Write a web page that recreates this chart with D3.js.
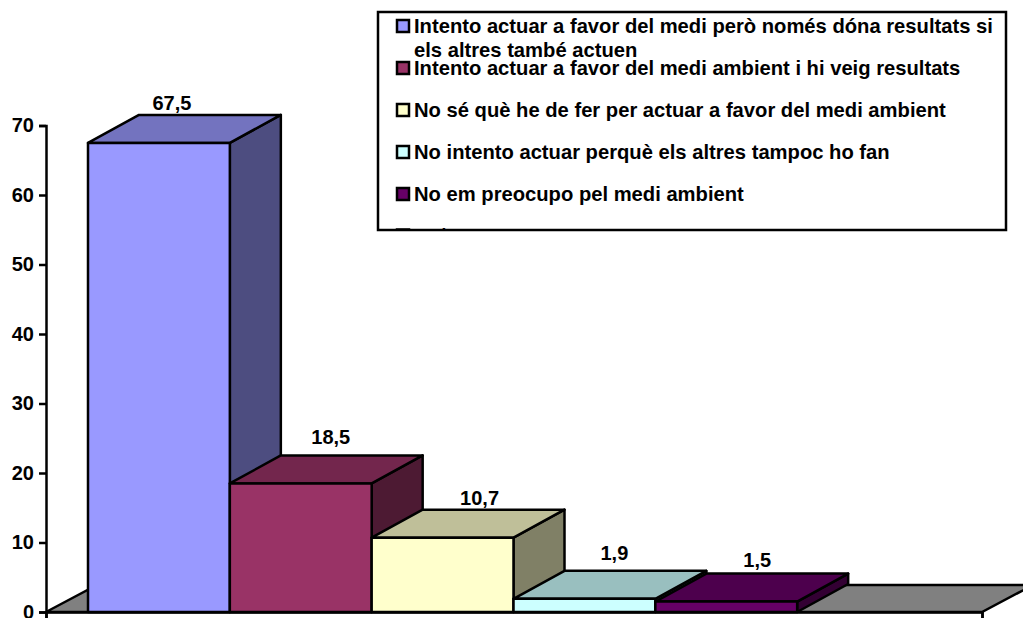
<!DOCTYPE html>
<html>
<head>
<meta charset="utf-8">
<script src="https://cdn.jsdelivr.net/npm/d3@7"></script>
<style>
  html, body { margin: 0; padding: 0; background: #fff; overflow: hidden; }
  text { font-family: "Liberation Sans", Arial, sans-serif; font-weight: bold; fill: #000; }
</style>
</head>
<body>
<div id="chart"></div>
<script>
// one category, six series (the last one has no bar and its legend row is cut off by the box)
var seriesNames = [
  ["Intento actuar a favor del medi però només dóna resultats si", "els altres també actuen"],
  ["Intento actuar a favor del medi ambient i hi veig resultats"],
  ["No sé què he de fer per actuar a favor del medi ambient"],
  ["No intento actuar perquè els altres tampoc ho fan"],
  ["No em preocupo pel medi ambient"],
  ["Ns/Nc"]
];
var seriesValues = [67.5, 18.5, 10.7, 1.9, 1.5, 0];
var valueLabels = ["67,5", "18,5", "10,7", "1,9", "1,5", ""];
var seriesColors = ["#9999ff", "#993366", "#ffffcc", "#ccffff", "#660066", "#ff8080"];
var yTicks = [0, 10, 20, 30, 40, 50, 60, 70];

var width = 1023, height = 618;
var depthX = 51, depthY = -28;   // oblique offset of the 3d look
var floorLeft = 46, floorRight = 982;
var strokeW = 2.5;

// the value labels don't sit at a fixed place over the bars, nudge each by hand
var labelDx = [13, 30, 37, 30, 31, 0];
var labelDy = [-5, -11, -5, -11, -7, 0];

var svg = d3.select("#chart").append("svg")
  .attr("width", width)
  .attr("height", height)
  .style("display", "block");

var y = d3.scaleLinear().domain([0, 70]).range([612, 125.5]);
var x = d3.scaleBand()
  .domain(d3.range(seriesValues.length))
  .range([88, 939]);

var line = d3.line();
function poly(pts) { return line(pts) + "Z"; }

function shade(c, k) {
  var r = d3.rgb(c);
  return d3.rgb(r.r * k, r.g * k, r.b * k).formatHex();
}

// floor
svg.append("path")
  .attr("d", poly([
    [floorLeft, y(0)], [floorRight, y(0)],
    [floorRight + depthX, y(0) + depthY + 1], [floorLeft + depthX, y(0) + depthY + 1]
  ]))
  .attr("fill", "#808080")
  .attr("stroke", "#000")
  .attr("stroke-width", strokeW);

// bars, left to right so each one covers the side of the previous
var barData = seriesValues
  .map(function(v, i) { return {v: v, i: i}; })
  .filter(function(d) { return d.v > 0; });

var bars = svg.selectAll(".bar")
  .data(barData)
  .enter().append("g")
  .attr("class", "bar")
  .attr("stroke", "#000")
  .attr("stroke-width", strokeW)
  .attr("stroke-linejoin", "round");

bars.append("path") // side
  .attr("fill", function(d) { return shade(seriesColors[d.i], 0.5); })
  .attr("d", function(d) {
    var r = x(d.i) + x.bandwidth();
    return poly([[r, y(0)], [r, y(d.v)], [r + depthX, y(d.v) + depthY], [r + depthX, y(0) + depthY]]);
  });

bars.append("path") // top
  .attr("fill", function(d) { return shade(seriesColors[d.i], 0.75); })
  .attr("d", function(d) {
    var l = x(d.i), r = l + x.bandwidth();
    return poly([[l, y(d.v)], [r, y(d.v)], [r + depthX, y(d.v) + depthY], [l + depthX, y(d.v) + depthY]]);
  });

bars.append("rect") // front
  .attr("fill", function(d) { return seriesColors[d.i]; })
  .attr("x", function(d) { return x(d.i); })
  .attr("y", function(d) { return y(d.v); })
  .attr("width", x.bandwidth())
  .attr("height", function(d) { return y(0) - y(d.v); });

svg.selectAll(".value")
  .data(barData)
  .enter().append("text")
  .attr("class", "value")
  .attr("x", function(d) { return x(d.i) + x.bandwidth() / 2 + labelDx[d.i]; })
  .attr("y", function(d) { return y(d.v) + depthY + labelDy[d.i]; })
  .attr("text-anchor", "middle")
  .style("font-size", "20px")
  .text(function(d) { return valueLabels[d.i]; });

// y axis
var yAxis = svg.append("g")
  .attr("transform", "translate(" + floorLeft + ",0)")
  .call(d3.axisLeft(y).tickValues(yTicks).tickSize(7).tickPadding(5).tickFormat(d3.format("d")));
yAxis.attr("font-family", null).attr("font-size", null);
yAxis.select(".domain").attr("stroke", "#000").attr("stroke-width", strokeW);
yAxis.selectAll(".tick line").attr("stroke", "#000").attr("stroke-width", strokeW);
yAxis.selectAll(".tick text").style("font-size", "20px");

// x axis line and its end ticks
var xAxis = svg.append("g")
  .attr("transform", "translate(0," + y(0) + ")")
  .call(d3.axisBottom(d3.scaleLinear().domain([floorLeft, floorRight]).range([floorLeft, floorRight]))
    .tickValues([floorLeft, floorRight]).tickSize(7).tickFormat(""));
xAxis.select(".domain").attr("stroke", "#000").attr("stroke-width", strokeW);
xAxis.selectAll(".tick line").attr("stroke", "#000").attr("stroke-width", strokeW);

// legend
var legendX = 378, legendY = 12, legendW = 628, legendH = 218;
var legendRowY = [33, 75, 117, 159, 201, 242.5];

svg.append("defs").append("clipPath").attr("id", "legend-clip")
  .append("rect")
  .attr("x", legendX).attr("y", legendY)
  .attr("width", legendW).attr("height", legendH);

svg.append("rect")
  .attr("x", legendX).attr("y", legendY)
  .attr("width", legendW).attr("height", legendH)
  .attr("fill", "#fff");

var rows = svg.append("g")
  .attr("clip-path", "url(#legend-clip)")
  .selectAll(".row")
  .data(seriesNames)
  .enter().append("g")
  .attr("class", "row")
  .attr("transform", function(d, i) { return "translate(0," + legendRowY[i] + ")"; });

rows.append("rect")
  .attr("x", 397).attr("y", -13)
  .attr("width", 12).attr("height", 12)
  .attr("fill", function(d, i) { return seriesColors[i]; })
  .attr("stroke", "#000")
  .attr("stroke-width", strokeW);

rows.append("text")
  .style("font-size", "20.2px")
  .selectAll("tspan")
  .data(function(d) { return d; })
  .enter().append("tspan")
  .attr("x", 414)
  .attr("y", function(d, i) { return i * 24; })
  .text(function(d) { return d; });

svg.append("rect")
  .attr("x", legendX).attr("y", legendY)
  .attr("width", legendW).attr("height", legendH)
  .attr("fill", "none")
  .attr("stroke", "#000")
  .attr("stroke-width", strokeW);
</script>
</body>
</html>
